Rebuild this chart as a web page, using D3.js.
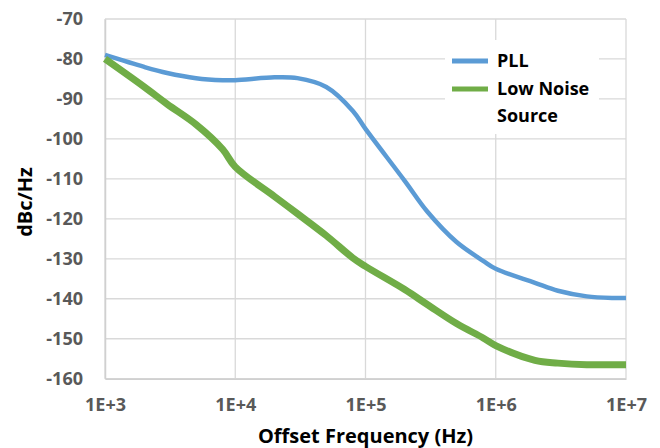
<!DOCTYPE html>
<html>
<head>
<meta charset="utf-8">
<script src="https://cdn.jsdelivr.net/npm/d3@7"></script>
<style>
body{margin:0;background:#fff;}
text{font-family:"Open Sans",sans-serif;font-weight:bold;}
</style>
</head>
<body>
<div class="canvas"></div>
<script>
const width=660,
height=448;
const margin={top:19,right:34,bottom:70,left:105};

// offset frequency (Hz)
const freq=[1e3,2e3,3e3,5e3,8e3,1e4,2e4,3e4,5e4,8e4,1e5,2e5,3e5,5e5,8e5,1e6,2e6,3e6,5e6,8e6,1e7];
// phase noise, dBc/Hz
const pll=[-79,-82,-83.5,-84.8,-85.3,-85.3,-84.6,-84.8,-87,-93,-97.5,-110.5,-118.3,-125.8,-130.5,-132.5,-136,-138,-139.4,-139.8,-139.8];
const lowNoise=[-80,-87,-91.3,-96.4,-102.6,-107,-114.4,-118.7,-124.2,-129.8,-131.9,-137.7,-141.5,-146.2,-149.8,-151.7,-155.4,-156.1,-156.5,-156.5,-156.5];

const xTicks=[1e3,1e4,1e5,1e6,1e7];
const xTickLabels=["1E+3","1E+4","1E+5","1E+6","1E+7"];
const yTicks=[-70,-80,-90,-100,-110,-120,-130,-140,-150,-160];

const series=[
  {name:"PLL",values:pll,color:"#5b9bd5",w:4.5},
  {name:"Low Noise Source",values:lowNoise,color:"#70ad47",w:7}
];

const svg=d3.select(".canvas").append("svg")
  .attr("width",width)
  .attr("height",height);

const x=d3.scaleLog()
  .domain([1e3,1e7])
  .range([margin.left,width-margin.right]);
const y=d3.scaleLinear()
  .domain([-160,-70])
  .range([height-margin.bottom+0.7,margin.top]);

// gridlines
svg.append("g").selectAll("line")
  .data(yTicks).enter().append("line")
  .attr("x1",margin.left).attr("x2",width-margin.right)
  .attr("y1",d=>y(d)).attr("y2",d=>y(d))
  .attr("stroke","#d9d9d9").attr("stroke-width",1.3);
svg.append("g").selectAll("line")
  .data(xTicks).enter().append("line")
  .attr("x1",d=>x(d)).attr("x2",d=>x(d))
  .attr("y1",y(-70)).attr("y2",y(-160))
  .attr("stroke","#d9d9d9").attr("stroke-width",1.3);

// axis labels
const xAxis=d3.axisBottom(x).tickValues(xTicks).tickFormat((d,i)=>xTickLabels[i]).tickSize(0).tickPadding(20);
const yAxis=d3.axisLeft(y).tickValues(yTicks).tickFormat(d=>String(d)).tickSize(0).tickPadding(22);

const gx=svg.append("g").attr("transform",`translate(0,${y(-160)})`).call(xAxis);
const gy=svg.append("g").attr("transform",`translate(${margin.left},0)`).call(yAxis);
[gx,gy].forEach(g=>{
  g.select(".domain").attr("stroke","#d0d0d0").attr("stroke-width",1.5);
  g.selectAll("text").attr("fill","#595959").style("font-size","18px").style("font-family","Open Sans").style("font-weight","bold");
});

// legend background
svg.append("rect")
  .attr("x",445).attr("y",40).attr("width",154).attr("height",94)
  .attr("fill","#fff");

// series lines
const line=d3.line()
  .x((d,i)=>x(freq[i]))
  .y(d=>y(d))
  .curve(d3.curveCatmullRom.alpha(0.5));

svg.selectAll(".series")
  .data(series).enter().append("path")
  .attr("class","series")
  .attr("d",d=>line(d.values))
  .attr("fill","none")
  .attr("stroke",d=>d.color)
  .attr("stroke-width",d=>d.w)
  .attr("stroke-linejoin","round");

// legend
const legend=svg.append("g");
legend.append("line").attr("x1",452).attr("x2",488).attr("y1",61).attr("y2",61)
  .attr("stroke",series[0].color).attr("stroke-width",5);
legend.append("line").attr("x1",452).attr("x2",488).attr("y1",89).attr("y2",89)
  .attr("stroke",series[1].color).attr("stroke-width",5);
legend.append("text").attr("x",497).attr("y",67).text("PLL");
legend.append("text").attr("x",497).attr("y",95).text("Low Noise");
legend.append("text").attr("x",497).attr("y",122).text("Source");
legend.selectAll("text").style("font-size","18px").attr("fill","#000");

// axis titles
svg.append("text")
  .attr("x",(margin.left+width-margin.right)/2)
  .attr("y",443)
  .attr("text-anchor","middle")
  .style("font-size","20px")
  .text("Offset Frequency (Hz)");
svg.append("text")
  .attr("transform","translate(32,202) rotate(-90)")
  .attr("text-anchor","middle")
  .style("font-size","20px")
  .text("dBc/Hz");
</script>
</body>
</html>
